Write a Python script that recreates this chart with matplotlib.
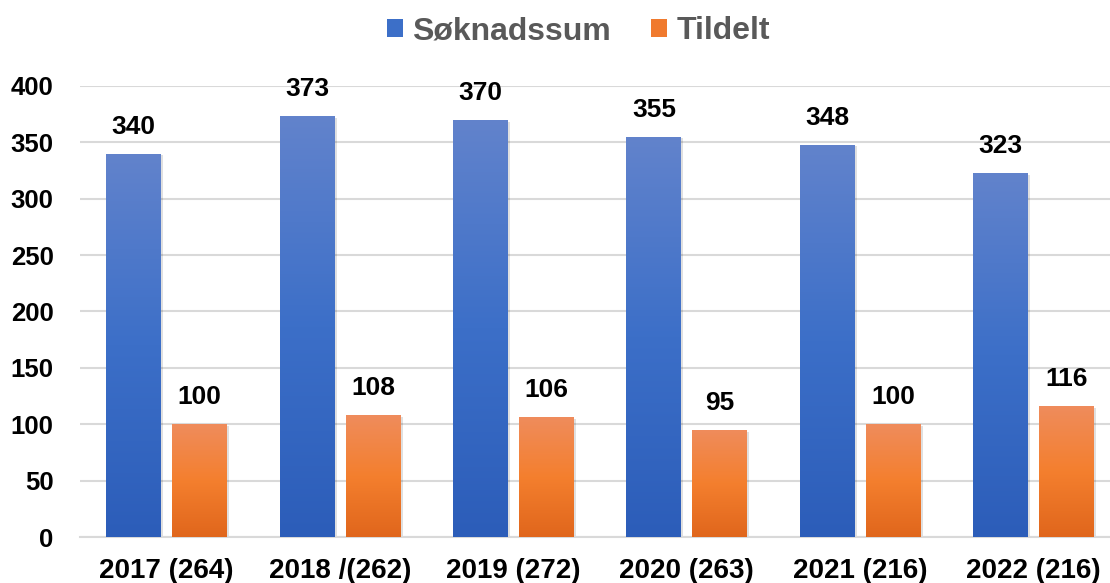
import numpy as np
import matplotlib
matplotlib.use("Agg")
import matplotlib.pyplot as plt
from matplotlib.colors import LinearSegmentedColormap
from matplotlib.patches import Patch, Rectangle

plt.rcParams['font.family'] = ['Liberation Sans', 'DejaVu Sans']
plt.rcParams['font.weight'] = 'bold'

categories = ["2017 (264)", "2018 /(262)", "2019 (272)", "2020 (263)", "2021 (216)", "2022 (216)"]
soknadssum = [340, 373, 370, 355, 348, 323]
tildelt = [100, 108, 106, 95, 100, 116]
series_names = ["Søknadssum", "Tildelt"]

blue_cmap = LinearSegmentedColormap.from_list("blue", ["#2C5DB9", "#3C6FC8", "#6283CC"])
orange_cmap = LinearSegmentedColormap.from_list("orange", ["#E0661C", "#F47F2E", "#EF8C5C"])

fig = plt.figure(figsize=(11.1, 5.83), dpi=100)
ax = fig.add_axes([0.072, 0.0789, 0.928, 0.7736])

x = np.arange(len(categories))
w = 0.317
off = (w + 0.063) / 2


def gradient_bars(xs, vals, cmap):
    bars = ax.bar(xs, vals, width=w, color="none", zorder=3)
    grad = np.linspace(0, 1, 256).reshape(-1, 1)
    for b in bars:
        bx, by = b.get_x(), b.get_y()
        bw, bh = b.get_width(), b.get_height()
        # soft shadow
        sh = Rectangle((bx + 0.012, by), bw, bh - 1.5, facecolor="#000000", alpha=0.12,
                       edgecolor="none", zorder=2)
        ax.add_patch(sh)
        im = ax.imshow(grad, cmap=cmap, aspect="auto", origin="lower",
                       extent=[bx, bx + bw, by, by + bh], zorder=3)
        im.set_clip_path(b)
    return bars


b1 = gradient_bars(x - off, soknadssum, blue_cmap)
b2 = gradient_bars(x + off, tildelt, orange_cmap)

for bars, vals in ((b1, soknadssum), (b2, tildelt)):
    for b, v in zip(bars, vals):
        ax.annotate(str(v), (b.get_x() + b.get_width() / 2, v), xytext=(0, 19.5),
                    textcoords="offset points", ha="center", va="center",
                    fontsize=19, fontweight="bold", color="black")

ax.set_xlim(-0.5, 5.44)
ax.set_ylim(0, 400)
ax.set_yticks(np.arange(0, 401, 50))
ax.set_xticks(x)
ax.set_xticklabels(categories)
ax.yaxis.grid(True, color="#D9D9D9", linewidth=1.5, zorder=0)
ax.set_axisbelow(True)
for s in ["top", "right", "left"]:
    ax.spines[s].set_visible(False)
ax.spines["bottom"].set_color("#D9D9D9")
ax.spines["bottom"].set_linewidth(1.5)
ax.tick_params(axis="y", length=0, labelsize=18.5, pad=19)
ax.tick_params(axis="x", length=0, labelsize=20, pad=15)

handles = [Patch(facecolor="#3C6FC8"), Patch(facecolor="#F07A2E")]
fig.legend(handles, series_names, loc="center", bbox_to_anchor=(0.521, 0.946), ncol=2,
           frameon=False, fontsize=23, handlelength=0.5, handleheight=0.5,
           handletextpad=0.3, columnspacing=1.25, labelcolor="#595959")

fig.savefig("out.png", dpi=100)
